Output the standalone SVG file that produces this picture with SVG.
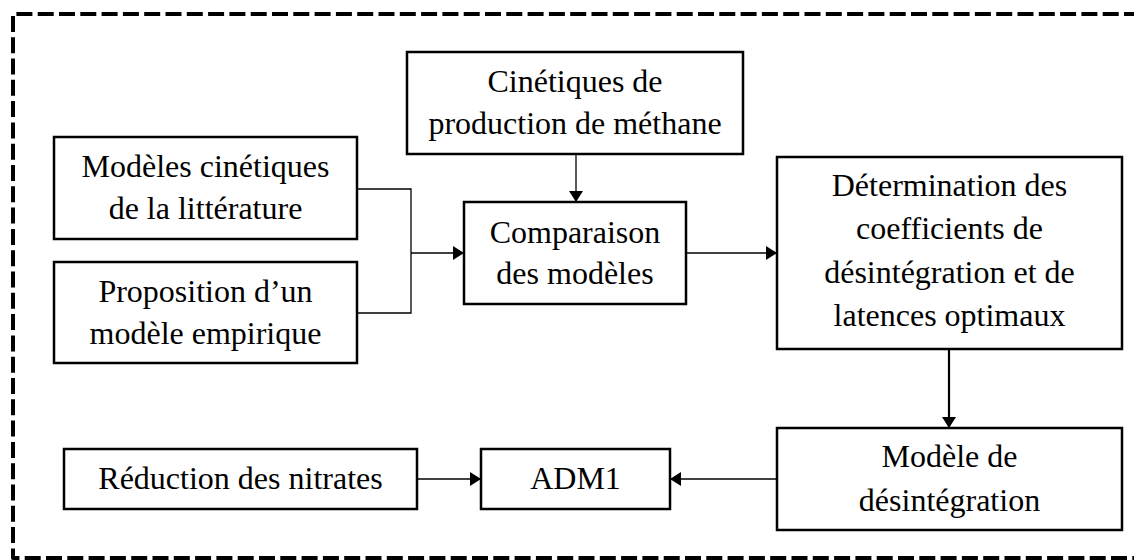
<svg xmlns="http://www.w3.org/2000/svg" width="1134" height="560" viewBox="0 0 1134 560">
<style>
.box{fill:#fff;stroke:#000;stroke-width:2.5}
.t{font-family:"Liberation Serif","Times New Roman",serif;font-size:32px;fill:#000;text-anchor:middle}
.c{fill:none;stroke:#000;stroke-width:1.3}
.c2{fill:none;stroke:#000;stroke-width:2.2}
</style>
<defs>
<marker id="ah" markerUnits="userSpaceOnUse" markerWidth="12" markerHeight="14" refX="11" refY="7" orient="auto">
<path d="M0,0 L11,7 L0,14 Z" fill="#000"/>
</marker>
</defs>
<path d="M1140,14 L13,14 L13,558 L1140,558" fill="none" stroke="#000" stroke-width="4" stroke-dasharray="16 5.3" stroke-linejoin="round"/>
<g id="connectors">
<polyline class="c" points="357,189 411,189 411,313 357,313"/>
<line class="c" x1="411" y1="253" x2="464" y2="253" marker-end="url(#ah)"/>
<line class="c" x1="576" y1="154" x2="576" y2="202" marker-end="url(#ah)"/>
<line class="c" x1="686" y1="253" x2="777" y2="253" marker-end="url(#ah)"/>
<line class="c2" x1="949" y1="349" x2="949" y2="428" marker-end="url(#ah)"/>
<line class="c" x1="417" y1="479" x2="481" y2="479" marker-end="url(#ah)"/>
<line class="c" x1="777" y1="479" x2="670" y2="479" marker-end="url(#ah)"/>
</g>
<g id="n-cinetiques">
<rect class="box" x="407" y="52" width="336" height="102"/>
<text class="t" x="575" y="92">Cinétiques de</text>
<text class="t" x="575" y="134">production de méthane</text>
</g>
<g id="n-modeles">
<rect class="box" x="54" y="137" width="303" height="102"/>
<text class="t" x="205.5" y="177">Modèles cinétiques</text>
<text class="t" x="205.5" y="219">de la littérature</text>
</g>
<g id="n-proposition">
<rect class="box" x="54" y="262" width="303" height="101"/>
<text class="t" x="205.5" y="302">Proposition d’un</text>
<text class="t" x="205.5" y="344">modèle empirique</text>
</g>
<g id="n-comparaison">
<rect class="box" x="464" y="202" width="222" height="102"/>
<text class="t" x="575" y="243">Comparaison</text>
<text class="t" x="575" y="284">des modèles</text>
</g>
<g id="n-determination">
<rect class="box" x="777" y="157" width="345" height="192"/>
<text class="t" x="949.5" y="196">Détermination des</text>
<text class="t" x="949.5" y="239">coefficients de</text>
<text class="t" x="949.5" y="283">désintégration et de</text>
<text class="t" x="949.5" y="326">latences optimaux</text>
</g>
<g id="n-reduction">
<rect class="box" x="64" y="449" width="353" height="60"/>
<text class="t" x="240.5" y="489">Réduction des nitrates</text>
</g>
<g id="n-adm1">
<rect class="box" x="481" y="449" width="189" height="60"/>
<text class="t" x="575.5" y="489">ADM1</text>
</g>
<g id="n-modele-desint">
<rect class="box" x="777" y="428" width="345" height="102"/>
<text class="t" x="949.5" y="467">Modèle de</text>
<text class="t" x="949.5" y="511">désintégration</text>
</g>
</svg>
